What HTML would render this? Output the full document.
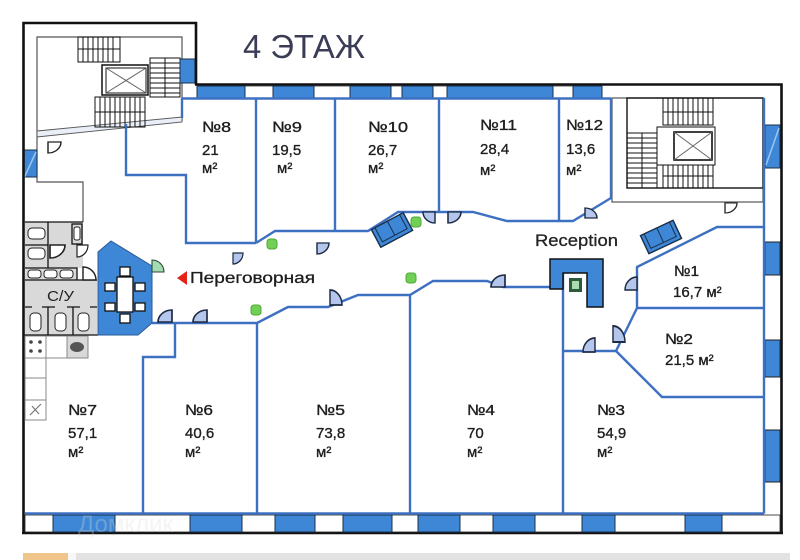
<!DOCTYPE html>
<html><head><meta charset="utf-8">
<style>html,body{margin:0;padding:0;background:#fff}svg{display:block}</style>
</head><body>
<svg width="800" height="560" viewBox="0 0 800 560" xmlns="http://www.w3.org/2000/svg">
<defs>
<path id="dr" d="M0,0 V-10 A10,10 0 0 1 10,0 Z"/>
</defs>
<rect width="800" height="560" fill="#fff"/>

<!-- ===== left stair tower ===== -->
<g fill="none" stroke="#555" stroke-width="1.2">
  <path d="M37,137 V37 H182 V121"/>
  <path d="M37,137 V182 H83 V222"/>
</g>
<polygon points="37,131 182,117 182,122 37,137" fill="#e9eef7" stroke="#555" stroke-width="0.9"/>
<g stroke="#111" stroke-width="1" fill="none">
  <rect x="78" y="37" width="42" height="25"/>
  <path d="M83,37V62M88,37V62M93,37V62M98,37V62M103,37V62M108,37V62M113,37V62M78,49H120"/>
  <rect x="150" y="58" width="30" height="39"/>
  <path d="M150,63H180M150,68H180M150,73H180M150,78H180M150,83H180M150,88H180M150,93H180M165,58V97"/>
  <rect x="95" y="97" width="50" height="30"/>
  <path d="M100,97V127M105,97V127M110,97V127M115,97V127M120,97V127M125,97V127M130,97V127M135,97V127M140,97V127M95,112H145"/>
  <rect x="102" y="65" width="46" height="30" stroke-width="1.5"/>
  <rect x="106" y="68" width="40" height="25"/>
  <path d="M106,68L146,93M146,68L106,93" stroke="#666"/>
</g>
<rect x="180" y="59" width="15" height="24" fill="#3d87d6" stroke="#1c2f4a" stroke-width="1"/>
<rect x="23" y="150" width="14" height="27" fill="#3d87d6" stroke="#1c2f4a" stroke-width="1"/>
<path d="M24,178 L36,152" stroke="#9cc6f0" stroke-width="1.5"/>

<!-- ===== right stair tower ===== -->
<rect x="612" y="98" width="151" height="104" fill="none" stroke="#555" stroke-width="1.2"/>
<g stroke="#111" stroke-width="1" fill="none">
  <rect x="627" y="98" width="136" height="90" stroke-width="1.4"/>
  <rect x="663" y="98" width="50" height="27"/>
  <path d="M668,98V125M673,98V125M678,98V125M683,98V125M688,98V125M693,98V125M698,98V125M703,98V125M708,98V125M663,112H713"/>
  <rect x="627" y="133" width="30" height="55"/>
  <path d="M627,138H657M627,143H657M627,148H657M627,153H657M627,158H657M627,163H657M627,168H657M627,173H657M627,178H657M627,183H657M642,133V188"/>
  <rect x="663" y="165" width="50" height="23"/>
  <path d="M668,165V188M673,165V188M678,165V188M683,165V188M688,165V188M693,165V188M698,165V188M703,165V188M708,165V188M663,176H713"/>
  <rect x="657" y="127" width="58" height="38" fill="#fff"/>
  <rect x="674" y="132" width="38" height="28" stroke-width="1.6"/>
  <path d="M674,132L712,160M712,132L674,160" stroke="#666"/>
</g>

<!-- ===== outer walls ===== -->
<g fill="none" stroke="#111" stroke-width="2.6">
  <path d="M23.5,534 V23 H196 V85"/>
  <path d="M195,84.5 H781.5 V534"/>
  <path d="M22,533 H783"/>
</g>

<!-- top window band -->
<rect x="197" y="86" width="405" height="12" fill="#fff" stroke="#333" stroke-width="0.8"/>
<g fill="#3d87d6" stroke="#1c2f4a" stroke-width="1">
  <rect x="197" y="86" width="48" height="12"/>
  <rect x="273" y="86" width="41" height="12"/>
  <rect x="350" y="86" width="41" height="12"/>
  <rect x="402" y="86" width="31" height="12"/>
  <rect x="447" y="86" width="106" height="12"/>
  <rect x="573" y="86" width="29" height="12"/>
</g>
<!-- bottom window band -->
<rect x="25" y="515" width="755" height="17" fill="#fff" stroke="#222" stroke-width="0.8"/>
<g fill="#3d87d6" stroke="#1c2f4a" stroke-width="1">
  <rect x="53" y="515" width="62" height="17"/>
  <rect x="190" y="515" width="52" height="17"/>
  <rect x="275" y="515" width="40" height="17"/>
  <rect x="343" y="515" width="49" height="17"/>
  <rect x="418" y="515" width="42" height="17"/>
  <rect x="493" y="515" width="42" height="17"/>
  <rect x="582" y="515" width="33" height="17"/>
  <rect x="685" y="515" width="37" height="17"/>
</g>
<!-- right window band -->
<g fill="#3d87d6" stroke="#1c2f4a" stroke-width="1">
  <rect x="765" y="125" width="15" height="43"/>
  <rect x="765" y="242" width="15" height="33"/>
  <rect x="765" y="340" width="15" height="37"/>
  <rect x="765" y="430" width="15" height="52"/>
</g>
<path d="M766,165 L779,128" stroke="#9cc6f0" stroke-width="1.5"/>
<g stroke="#222" stroke-width="1"><path d="M765,242H780M765,275H780M765,340H780M765,377H780M765,430H780M765,482H780"/></g>

<!-- ===== room blue lines ===== -->
<g fill="none" stroke="#3e70c2" stroke-width="2.4" stroke-linejoin="miter">
  <path d="M182,98.5 H611"/>
  <path d="M182,98 V118"/>
  <path d="M126,124 V175 H186 V243 H256"/>
  <path d="M256,98 V243"/>
  <path d="M256,243 L275,231 H368 L398,212 H473 L507,221 H573 L611,198 V98"/>
  <path d="M335,98 V230"/>
  <path d="M439,98 V212"/>
  <path d="M559,98 V221"/>
  <path d="M764,98 V227 H717 L637,267 V308 L616,351 H563"/>
  <path d="M637,308 H764"/>
  <path d="M616,351 L662,397 H764"/>
  <path d="M764,227 V513.5"/>
  <path d="M563,273 V513"/>
  <path d="M152,323 H257 L288,307 H328 L358,295 H410 L433,281 H487 L503,287 H550"/>
  <path d="M175,323 V357 H143 V513"/>
  <path d="M257,323 V513"/>
  <path d="M410,295 V513"/>
  <path d="M25,513.5 H764"/>
</g>

<!-- ===== bathroom block ===== -->
<g>
  <rect x="25" y="222" width="58" height="46" fill="#d9d9d9"/>
  <rect x="25" y="268" width="52" height="12" fill="#d9d9d9"/>
  <rect x="25" y="280" width="72" height="55" fill="#d9d9d9"/>
  <g stroke="#111" stroke-width="1.3" fill="none">
    <path d="M25,222 H83"/>
    <path d="M48,222 V268"/>
    <path d="M25,245 H48"/>
    <path d="M25,268 H77 V280"/>
    <path d="M25,280 H97"/>
    <path d="M48,307 V335 M73,307 V335"/>
    <path d="M25,307 H32 M42,307 H55 M67,307 H80 M90,307 H97"/>
    <path d="M23,335 H98"/>
    <rect x="72" y="224" width="10" height="20"/>
  </g>
  <g fill="#fff" stroke="#222" stroke-width="1">
    <rect x="28" y="228" width="17" height="11" rx="4"/>
    <rect x="28" y="248" width="17" height="11" rx="4"/>
    <rect x="28" y="270" width="13" height="8" rx="3"/>
    <rect x="44" y="270" width="13" height="8" rx="3"/>
    <rect x="60" y="270" width="13" height="8" rx="3"/>
    <rect x="30" y="313" width="11" height="18" rx="4"/>
    <rect x="55" y="313" width="11" height="18" rx="4"/>
    <rect x="78" y="313" width="11" height="18" rx="4"/>
    <rect x="74" y="227" width="6" height="13" rx="2"/>
  </g>
  <text x="47" y="301" font-family="Liberation Sans, DejaVu Sans, sans-serif" font-size="15" fill="#222" textLength="27" lengthAdjust="spacingAndGlyphs">С/У</text>
  <g stroke="#888" stroke-width="1" fill="#fff">
    <rect x="25" y="336" width="21" height="22"/>
    <rect x="46" y="336" width="21" height="22"/>
    <rect x="67" y="336" width="21" height="22" fill="#d9d9d9"/>
    <rect x="25" y="358" width="21" height="20"/>
    <rect x="25" y="378" width="21" height="22"/>
    <rect x="25" y="400" width="21" height="20"/>
  </g>
  <g fill="#444"><circle cx="31" cy="342" r="1.8"/><circle cx="40" cy="342" r="1.8"/><circle cx="31" cy="351" r="1.8"/><circle cx="40" cy="351" r="1.8"/></g>
  <ellipse cx="77" cy="347" rx="7" ry="5" fill="#555"/>
  <path d="M30,415 L41,404 M32,406 L39,414" stroke="#777" stroke-width="1.2"/>
</g>

<!-- ===== meeting room ===== -->
<polygon points="98,252 111,241 152,266 152,323 138,335 98,335" fill="#3d87d6" stroke="#2a5a98" stroke-width="1"/>
<g fill="#fff" stroke="#111" stroke-width="1.3">
  <rect x="120" y="267" width="10" height="9"/>
  <rect x="120" y="314" width="10" height="9"/>
  <rect x="105" y="283" width="10" height="8"/>
  <rect x="105" y="303" width="10" height="8"/>
  <rect x="135" y="283" width="10" height="8"/>
  <rect x="135" y="303" width="10" height="8"/>
  <rect x="117" y="277" width="16" height="35"/>
</g>
<path d="M152,272 V260 A12,12 0 0 1 164,272 Z" fill="#a5dbb0" stroke="#2a4a3a" stroke-width="1.1"/>
<polygon points="187,271 177,278 187,285" fill="#e3221c"/>
<text x="190" y="283" font-family="Liberation Sans, DejaVu Sans, sans-serif" font-size="16" fill="#1e1e1e" stroke="#1e1e1e" stroke-width="0.3" textLength="125" lengthAdjust="spacingAndGlyphs">Переговорная</text>

<!-- ===== doors ===== -->
<g fill="#b5c6ec" stroke="#1d2a44" stroke-width="1.2">
  <use href="#dr" transform="translate(233,253) scale(1,-1.1)"/>
  <use href="#dr" transform="translate(317,243) scale(1.2,-1.1)"/>
  <use href="#dr" transform="translate(435,212) scale(-1.2,-1.1)"/>
  <use href="#dr" transform="translate(448,212) scale(1.3,-1.1)"/>
  <use href="#dr" transform="translate(585,218) scale(1.2,1)"/>
  <use href="#dr" transform="translate(505,287) scale(-1.4,1.2)"/>
  <use href="#dr" transform="translate(330,305) scale(1.2,1.5)"/>
  <use href="#dr" transform="translate(172,322) scale(-1.4,1.2)"/>
  <use href="#dr" transform="translate(207,322) scale(-1.4,1.2)"/>
  <use href="#dr" transform="translate(637,290) scale(-1.2,1.3)"/>
  <use href="#dr" transform="translate(613,342) scale(1.2,1.6)"/>
  <use href="#dr" transform="translate(595,352) scale(-1.2,1.4)"/>
</g>
<g fill="#fff" stroke="#222" stroke-width="1.1">
  <use href="#dr" transform="translate(48,142) scale(1.3,-1.1)"/>
  <use href="#dr" transform="translate(725,203) scale(1.2,-1)"/>
  <use href="#dr" transform="translate(83,280) scale(1.3,1.3)"/>
  <use href="#dr" transform="translate(77,245) scale(1.1,-1.2)"/>
  <use href="#dr" transform="translate(50,245) scale(1.5,-1.3)"/>
</g>

<!-- ===== sofas ===== -->
<g transform="translate(392,230) rotate(-28)">
  <rect x="-18" y="-10" width="36" height="20" fill="#3d87d6" stroke="#1a2e48" stroke-width="1.4"/>
  <path d="M-14,-10 V6 H14 V-10 M0,-10 V6" fill="none" stroke="#1a2e48" stroke-width="1"/>
</g>
<g transform="translate(661,237) rotate(-25)">
  <rect x="-18" y="-10" width="36" height="20" fill="#3d87d6" stroke="#1a2e48" stroke-width="1.4"/>
  <path d="M-14,-10 V6 H14 V-10 M0,-10 V6" fill="none" stroke="#1a2e48" stroke-width="1"/>
</g>

<!-- ===== plants ===== -->
<g fill="#72cf55" stroke="#4fa83a" stroke-width="1">
  <rect x="267" y="239" width="10" height="10" rx="3"/>
  <rect x="411" y="217" width="10" height="10" rx="3"/>
  <rect x="406" y="273" width="10" height="10" rx="3"/>
  <rect x="251" y="305" width="10" height="10" rx="3"/>
</g>

<!-- ===== reception ===== -->
<path d="M550,259 H603 V307 H587 V273 H563 V289 H550 Z" fill="#3d87d6" stroke="#111" stroke-width="1.5"/>
<rect x="569" y="278" width="13" height="14" fill="#2e5a3c"/>
<rect x="572" y="281" width="7" height="8" fill="#a8dcb0"/>
<text x="535" y="246" font-family="Liberation Sans, DejaVu Sans, sans-serif" font-size="17" fill="#222" stroke="#222" stroke-width="0.3" textLength="83" lengthAdjust="spacingAndGlyphs">Reception</text>

<!-- ===== title ===== -->
<text x="243" y="58" font-family="Liberation Sans, DejaVu Sans, sans-serif" font-size="33" fill="#3a3d55" textLength="122" lengthAdjust="spacingAndGlyphs">4 ЭТАЖ</text>

<!-- ===== room labels ===== -->
<g font-family="Liberation Sans, DejaVu Sans, sans-serif" font-size="15" fill="#1e1e1e" stroke="#1e1e1e" stroke-width="0.35">
  <text x="202" y="132" textLength="29" lengthAdjust="spacingAndGlyphs">№8</text>
  <text x="202" y="155">21</text>
  <text x="202" y="173">м²</text>

  <text x="272" y="132" textLength="30" lengthAdjust="spacingAndGlyphs">№9</text>
  <text x="272" y="155">19,5</text>
  <text x="277" y="173">м²</text>

  <text x="368" y="132" textLength="40" lengthAdjust="spacingAndGlyphs">№10</text>
  <text x="368" y="155">26,7</text>
  <text x="368" y="173">м²</text>

  <text x="480" y="130" textLength="37" lengthAdjust="spacingAndGlyphs">№11</text>
  <text x="480" y="154">28,4</text>
  <text x="480" y="175">м²</text>

  <text x="566" y="130" textLength="37" lengthAdjust="spacingAndGlyphs">№12</text>
  <text x="566" y="154">13,6</text>
  <text x="566" y="175">м²</text>

  <text x="674" y="276" textLength="25" lengthAdjust="spacingAndGlyphs">№1</text>
  <text x="673" y="297">16,7 м²</text>

  <text x="665" y="344" textLength="28" lengthAdjust="spacingAndGlyphs">№2</text>
  <text x="665" y="365">21,5  м²</text>

  <text x="597" y="415" textLength="28" lengthAdjust="spacingAndGlyphs">№3</text>
  <text x="597" y="438">54,9</text>
  <text x="597" y="457">м²</text>

  <text x="467" y="415" textLength="28" lengthAdjust="spacingAndGlyphs">№4</text>
  <text x="467" y="438">70</text>
  <text x="467" y="457">м²</text>

  <text x="316" y="415" textLength="29" lengthAdjust="spacingAndGlyphs">№5</text>
  <text x="316" y="438">73,8</text>
  <text x="316" y="457">м²</text>

  <text x="185" y="415" textLength="28" lengthAdjust="spacingAndGlyphs">№6</text>
  <text x="185" y="438">40,6</text>
  <text x="185" y="457">м²</text>

  <text x="68" y="415" textLength="29" lengthAdjust="spacingAndGlyphs">№7</text>
  <text x="68" y="438">57,1</text>
  <text x="68" y="457">м²</text>
</g>

<!-- watermark -->
<text x="78" y="532" font-family="Liberation Sans, DejaVu Sans, sans-serif" font-size="24" fill="#dcdcdc" fill-opacity="0.3">Домклик</text>

<!-- bottom map strip -->
<rect x="23" y="553" width="767" height="7" fill="#e2e2e2"/>
<rect x="23" y="553" width="45" height="7" fill="#f0c58a"/>
<rect x="68" y="553" width="8" height="7" fill="#f7f7f7"/>
</svg>
</body></html>
